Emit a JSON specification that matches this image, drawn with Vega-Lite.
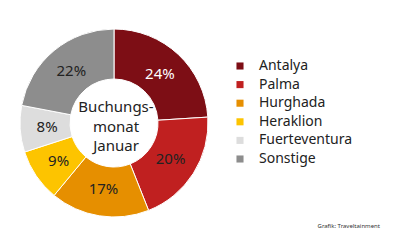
{
  "$schema": "https://vega.github.io/schema/vega-lite/v6.json",
  "width": 400,
  "height": 250,
  "autosize": "none",
  "padding": 0,
  "background": "white",
  "config": {"view": {"stroke": null}, "font": "Noto Sans"},
  "title": {"text": "Grafik: Traveltainment", "orient": "bottom", "anchor": "end", "offset": -27, "dx": -20, "fontSize": 6, "fontWeight": "normal", "color": "#333", "font": "Noto Sans"},
  "layer": [
    {
      "data": {"values": [
        {"ort": "Antalya", "anteil": 24, "label": "24%", "idx": 1},
        {"ort": "Palma", "anteil": 20, "label": "20%", "idx": 2},
        {"ort": "Hurghada", "anteil": 17, "label": "17%", "idx": 3},
        {"ort": "Heraklion", "anteil": 9, "label": "9%", "idx": 4},
        {"ort": "Fuerteventura", "anteil": 8, "label": "8%", "idx": 5},
        {"ort": "Sonstige", "anteil": 22, "label": "22%", "idx": 6}
      ]},
      "encoding": {
        "theta": {"field": "anteil", "type": "quantitative", "stack": true},
        "order": {"field": "idx", "type": "quantitative"}
      },
      "layer": [
        {
          "mark": {"type": "arc", "x": 114, "y": 123, "outerRadius": 94, "innerRadius": 44, "stroke": "white", "strokeWidth": 1},
          "encoding": {
            "color": {"field": "ort", "type": "nominal", "sort": ["Antalya", "Palma", "Hurghada", "Heraklion", "Fuerteventura", "Sonstige"],
              "scale": {"domain": ["Antalya", "Palma", "Hurghada", "Heraklion", "Fuerteventura", "Sonstige"], "range": ["#7d0e15", "#c02020", "#e68f00", "#fdc400", "#dddddd", "#8d8d8d"]},
              "legend": {"orient": "none", "legendX": 233, "legendY": 59, "title": null, "symbolType": "square", "symbolSize": 50, "symbolStrokeWidth": 0, "labelFontSize": 14, "labelColor": "#222", "labelFont": "Noto Sans", "rowPadding": 4.6, "labelOffset": 12}
            }
          }
        },
        {
          "mark": {"type": "text", "x": 114, "y": 123, "radius": 67, "fontSize": 15, "font": "Noto Sans"},
          "encoding": {
            "text": {"field": "label"},
            "color": {"condition": {"test": "datum.ort === 'Antalya'", "value": "white"}, "value": "#222"}
          }
        }
      ]
    },
    {
      "data": {"values": [{"t": ["Buchungs-", "monat", "Januar"]}]},
      "mark": {"type": "text", "x": 116, "y": 107, "fontSize": 15, "lineHeight": 19.5, "baseline": "middle", "color": "#222", "font": "Noto Sans"},
      "encoding": {"text": {"field": "t"}}
    }
  ]
}
